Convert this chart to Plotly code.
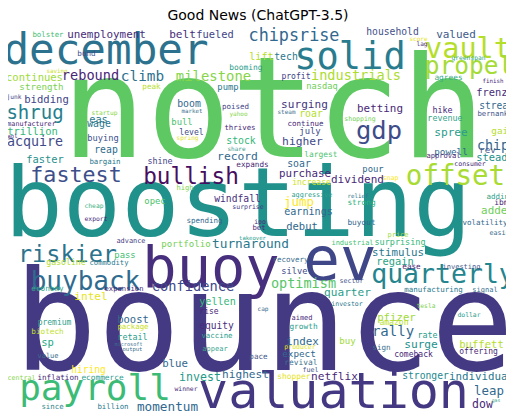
import plotly.graph_objects as go

words = [
    "notch", "boosting", "bounce", "buoy", "ev", "december", "solid", "vault", "propel", "gdp",
    "offset", "quarterly", "valuation", "payroll", "riskier", "buyback", "fastest", "bullish", "shrug", "chipsrise",
    "bolster", "unemployment", "bond", "saving", "rebound", "climb", "continues", "strength", "bidding", "junk",
    "startup", "eas", "manufacturer", "wage", "trillion", "aol", "buying", "acquire", "reap",
    "belt", "fueled", "lift", "tech", "booming", "milestone", "pump", "peak", "boom", "poised",
    "market", "yahoo", "bull", "thrives", "level", "spring", "stock", "share", "record",
    "household", "industrials", "profit", "nasdaq", "surging", "roar", "steam", "continue", "shopping", "betting",
    "july", "higher", "largest",
    "score", "valued", "lag", "greenspan", "agrees", "finish", "frenzy", "streak", "hike", "bernanke",
    "revenue", "gain", "spree", "chip", "rev", "powell", "steady", "approval", "consumer",
    "faster", "bargain", "cheap", "export", "advance", "pass", "commodity", "gasoline",
    "shine", "expands", "high", "opec", "windfall", "surprise", "spending", "ipo", "bet", "turnaround",
    "portfolio", "takeover", "confidence",
    "soar", "purchase", "pour", "snap", "dividend", "increase", "aggressive", "relief", "strong", "jump",
    "earnings", "debut", "buyout", "industrial", "surprising", "stimulus", "regain", "silver", "recovery",
    "adding", "ibm", "added", "volatility", "easing", "price", "ease", "investing",
    "economy", "expansion", "intel", "premium", "biotech", "sp", "value", "hiring", "central", "inflation",
    "ecommerce", "since", "billion", "retail", "boost", "package", "microsoft", "output",
    "yellen", "rise", "equity", "vaccine", "appear", "cap", "pace", "blue", "invest", "highest",
    "winner", "momentum",
    "optimism", "sector", "quarter", "investor", "aimed", "growth", "pfizer", "amazon", "rally", "index",
    "producer", "buy", "sign", "expect", "revival", "fuel", "netflix", "shopper",
    "manufacturing", "signal", "tesla", "dollar", "rate", "surge", "buffett", "comeback", "offering", "stronger",
    "individual", "leap", "dow", "gas",
]

font_sizes = [
    141, 97, 138.5, 57, 61, 42.6, 37, 28.5, 24.5, 25.5,
    27.5, 26.5, 50, 36, 23.5, 26, 21.7, 22.7, 19, 16.8,
    7.4, 10.9, 7.6, 5.8, 13.6, 14.4, 10.5, 9.2, 10.6, 6.2,
    6.2, 10.3, 6.7, 9.8, 10.5, 5.5, 8.7, 13.3, 9.8,
    11.1, 10.4, 10.2, 9.8, 7.9, 13.9, 8.9, 7.6, 9.8, 7.5,
    5.8, 6.0, 8.9, 7.4, 8.1, 6.1, 9.8, 6.0, 11.3,
    9.7, 13.6, 8.1, 8.7, 11.1, 9.8, 6.0, 7.5, 6.5, 10.9,
    8.9, 11.3, 7.9,
    6.0, 11.0, 6.1, 6.3, 7.8, 5.8, 10.4, 9.6, 8.4, 7.3,
    8.4, 9.3, 11.2, 13.3, 9.1, 9.3, 10.4, 7.1, 6.5,
    10.4, 7.4, 6.3, 6.4, 6.9, 8.9, 7.2, 8.2,
    8.4, 7.7, 7.1, 8.9, 9.7, 6.5, 7.5, 6.5, 7.3, 12.8,
    9.1, 5.6, 13.7,
    9.8, 10.8, 8.9, 6.7, 11.0, 8.0, 6.8, 5.8, 7.8, 12.4,
    10.1, 10.5, 7.8, 7.0, 8.5, 10.8, 10.4, 8.7, 7.5,
    7.5, 7.9, 10.9, 7.5, 6.7, 7.0, 7.6, 7.0,
    7.7, 7.2, 11.2, 8.0, 7.7, 10.5, 7.0, 9.6, 6.7, 7.6,
    7.8, 7.4, 7.4, 8.4, 10.5, 7.4, 5.2, 5.5,
    10.1, 8.0, 9.6, 7.4, 7.0, 6.1, 7.6, 10.7, 11.6, 11.1,
    6.4, 12.7,
    13.5, 6.7, 11.1, 6.5, 7.0, 7.8, 10.7, 8.1, 14.0, 10.9,
    6.5, 9.1, 7.6, 9.3, 7.9, 6.7, 11.1, 7.9,
    7.5, 7.0, 6.3, 6.4, 8.4, 11.2, 10.6, 8.0, 8.0, 9.7,
    10.8, 12.4, 11.5, 4.8,
]

word_colors = [
    "#5ec962", "#21918c", "#443983", "#472f7d", "#3f4788", "#2c728e", "#287c8e", "#b5de2b", "#a5db36", "#3e4c8a",
    "#a8db34", "#25858e", "#453882", "#3bbb75", "#2c738e", "#2f6b8e", "#3c4f8a", "#470d60", "#277f8e", "#31688e",
    "#3fbc73", "#472d7b", "#3e4c8a", "#c8e020", "#482677", "#2c728e", "#a0da39", "#7ad151", "#414487", "#433e85",
    "#86d549", "#2a788e", "#482878", "#2a788e", "#35b779", "#472c7a", "#3b528b", "#3e4a89", "#2f6c8e",
    "#472d7b", "#414487", "#b5de2b", "#2a788e", "#2a9d8c", "#86d549", "#2a788e", "#b8de29", "#31688e", "#414487",
    "#3b6f8e", "#84d44b", "#4ac16d", "#482878", "#3e4a89", "#e2e418", "#35b779", "#3d9c8c", "#31688e",
    "#3f4f8b", "#addc30", "#414487", "#6ece58", "#463480", "#b5de2b", "#3b6f8e", "#482878", "#73d055", "#482878",
    "#3e4a89", "#3e4a89", "#4cc26c",
    "#e5e419", "#3e5a8c", "#482878", "#36a98a", "#3cab88", "#482878", "#472d7b", "#31688e", "#482878", "#3b528b",
    "#35a48a", "#b5de2b", "#2a9d8c", "#31688e", "#46598b", "#31688e", "#21918c", "#482878", "#482878",
    "#26908c", "#2a788e", "#3bb081", "#482878", "#443a83", "#40bd72", "#2a788e", "#b2dd2d",
    "#414487", "#482878", "#7ad151", "#4cc26c", "#472f7d", "#443983", "#31688e", "#482878", "#482878", "#2a788e",
    "#73d055", "#2a9d8c", "#3e4a89",
    "#31688e", "#482878", "#31688e", "#fde725", "#482878", "#d0e11c", "#2a9d8c", "#2a788e", "#2db27d", "#fde725",
    "#31688e", "#31688e", "#31688e", "#44bf70", "#35b779", "#2a788e", "#2aa384", "#3e4a89", "#3b6f8e",
    "#2e9f87", "#482878", "#6ece58", "#31688e", "#3b6f8e", "#a0da39", "#482878", "#46598b",
    "#39a98a", "#482878", "#e5e419", "#35a08d", "#bddf26", "#29a98a", "#3b6f8e", "#fde725", "#86d549", "#482878",
    "#2a9d8c", "#31868e", "#2a788e", "#2a9d8c", "#31688e", "#c8e020", "#3b6f8e", "#3b6f8e",
    "#35b779", "#482878", "#472d7b", "#2a9d8c", "#40a38c", "#3b6f8e", "#46598b", "#31688e", "#1f9a8a", "#31688e",
    "#482878", "#31688e",
    "#56c667", "#46598b", "#2a9d8c", "#2a788e", "#482878", "#2a9d8c", "#a0da39", "#b8de29", "#31688e", "#31688e",
    "#e2e418", "#a0da39", "#3b6f8e", "#31688e", "#3b6f8e", "#46598b", "#482878", "#e5e419",
    "#2a788e", "#3b6f8e", "#7ad151", "#2a9d8c", "#2a9d8c", "#21918c", "#b5de2b", "#482878", "#482878", "#23888e",
    "#2a788e", "#31688e", "#482878", "#3fa58a",
]

# layout positions (cloud pixel space): word centre x, centre of x-height band y
pos_x = [
    273.5, 238, 264, 211, 340, 106, 350, 468, 469, 379,
    455.5, 443, 333.5, 95, 67.5, 85.5, 76, 191, 35, 294,
    48, 106.5, 86.5, 57, 90.5, 142.5, 34.5, 41.5, 46.5, 14,
    104.5, 98.5, 31.5, 99, 32.5, 12.5, 103, 35, 106,
    182.5, 215, 261.5, 286, 246, 213.5, 228, 151.5, 189, 235.5,
    192, 238.5, 182, 240, 191.5, 187.5, 241, 236.5, 237.5,
    392.5, 356, 296, 322, 304.5, 311, 286.5, 305.5, 360, 380,
    310, 302.5, 321,
    418.5, 456, 422, 468.5, 448.5, 493, 495, 496.5, 442.5, 495,
    445, 502.5, 451, 493, 487.5, 451, 495, 443.5, 470,
    45, 105, 94, 96, 131, 125, 109, 66,
    160, 252.5, 185, 155, 237.5, 248, 204.5, 260, 259, 250.5,
    186, 252.5, 193,
    299, 305, 373, 390.5, 357.5, 311.5, 312, 358, 361.5, 299,
    308.5, 302, 361.5, 352.5, 400, 398, 395, 297, 290.5,
    500, 501.5, 497.5, 485, 501.5, 398, 411.5, 461.5,
    47.5, 124, 91, 54.5, 47.5, 47.5, 48, 88.5, 21.5, 58,
    102.5, 52.5, 113, 132.5, 133, 133, 128.5, 132.5,
    217.5, 209, 216.5, 217, 215, 263, 258.5, 175, 200, 245.5,
    186, 167.5,
    303.5, 351.5, 347.5, 347, 302, 303.5, 396.5, 394, 393, 302.5,
    300, 347.5, 381.5, 299, 301, 310.5, 334.5, 294,
    433.5, 485, 426, 469, 427.5, 421, 481.5, 413.5, 478.5, 425.5,
    481.5, 489, 482.5, 496,
]

pos_y = [
    122, 212, 335, 273, 265, 53.6, 60, 51, 68, 133,
    178, 276, 395, 391, 256, 283, 177, 178, 114, 37,
    35, 35, 54, 72, 77, 77, 78, 88, 100, 97,
    113, 120, 124, 125, 132, 137, 139, 143, 151,
    35, 35, 57, 58, 68, 78, 88, 87, 105, 107,
    112, 114, 123, 128, 133, 138, 142, 149, 157,
    33, 77, 77, 87, 105, 115, 112, 124, 119, 109,
    132, 142, 155,
    39, 35, 44, 58, 78, 82, 93, 107, 111, 114,
    119, 132, 133, 147, 151, 153, 158, 156, 164,
    160, 162, 206, 219, 241, 256, 263, 263,
    162, 165, 188, 202, 200, 207, 221, 222, 228, 245,
    245, 239, 288,
    165, 174, 170, 178, 180, 183, 195, 197, 203, 203,
    212, 227, 223, 243, 243, 253, 262, 272, 260,
    197, 203, 211, 223, 233, 235, 267, 267,
    289, 289, 297, 323, 332, 343, 356, 371, 378, 378,
    378, 407, 407, 338, 320, 327, 345, 350,
    302, 312, 327, 336, 349, 309, 357, 364, 378, 375,
    389, 408,
    285, 281, 293, 304, 318, 327, 318, 323, 332, 342,
    347, 342, 348, 355, 363, 370, 377, 377,
    290, 290, 306, 315, 336, 345, 345, 355, 352, 377,
    377, 392, 405, 401,
]

title_text = "Good News (ChatGPT-3.5)"

# the page body keeps an 8px margin, so the axes are offset to keep window pixels == data units
PAGE_MARGIN = 8
FIG_W, FIG_H = 514, 417

fig = go.Figure(
    go.Scatter(
        x=pos_x,
        y=pos_y,
        mode="text",
        text=words,
        textposition="middle center",
        textfont=dict(family="DejaVu Sans Mono", size=font_sizes, color=word_colors),
        hoverinfo="skip",
        showlegend=False,
    )
)

fig.update_layout(
    width=FIG_W,
    height=FIG_H,
    margin=dict(l=0, r=0, t=0, b=0),
    paper_bgcolor="white",
    plot_bgcolor="white",
    xaxis=dict(range=[PAGE_MARGIN, FIG_W + PAGE_MARGIN], visible=False, fixedrange=True),
    yaxis=dict(range=[FIG_H + PAGE_MARGIN, PAGE_MARGIN], visible=False, fixedrange=True),
    hovermode=False,
    title=dict(
        text=title_text,
        x=(258 - PAGE_MARGIN) / FIG_W,
        xanchor="center",
        y=1 - (15 - PAGE_MARGIN) / FIG_H,
        yanchor="middle",
        font=dict(family="DejaVu Sans", size=14, color="black"),
    ),
)

fig.write_html("out.html")
